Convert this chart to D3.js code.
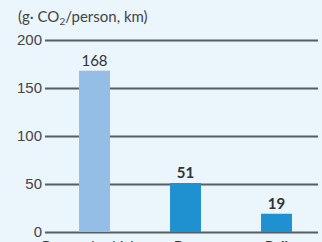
<!DOCTYPE html>
<html lang="en">
<head>
<meta charset="utf-8">
<title>CO2 per person km</title>
<script src="https://d3js.org/d3.v7.min.js"></script>
<style>
  html, body { margin: 0; padding: 0; background: #eaf5fc; }
  svg { display: block; font-family: Lato, "Open Sans", sans-serif; }
</style>
</head>
<body>
<div id="chart"></div>
<script>
// data
var modes = ["Personal vehicles", "Bus", "Rail"];
var emissions = [168, 51, 19];
var barColors = ["#95bee6", "#1f90d0", "#1f90d0"];
var boldLabel = [false, true, true];
var yTicks = [0, 50, 100, 150, 200];

var width = 322, height = 242;

var svg = d3.select("#chart").append("svg")
    .attr("width", width)
    .attr("height", height);

svg.append("rect")
    .attr("width", width).attr("height", height)
    .attr("fill", "#eaf5fc");

// scales
var y = d3.scaleLinear().domain([0, 200]).range([232, 40]);
var x = d3.scaleBand().domain(modes).range([49, 322]).paddingInner(0.66).paddingOuter(0.33);

// gridlines (drawn behind the bars)
var yAxis = d3.axisLeft(y)
    .tickValues(yTicks)
    .tickSize(-273)
    .tickPadding(3)
    .tickFormat(d3.format("d"));

var gy = svg.append("g")
    .attr("transform", "translate(45,0)")
    .call(yAxis);
gy.select(".domain").remove();
gy.selectAll(".tick line")
    .attr("stroke", "#5a5d60")
    .attr("stroke-width", 2);
gy.selectAll(".tick text")
    .attr("font-size", 15)
    .attr("fill", "#444");

// bars
svg.selectAll("rect.bar")
    .data(emissions)
    .enter().append("rect")
    .attr("class", "bar")
    .attr("x", function(d, i) { return x(modes[i]); })
    .attr("width", x.bandwidth())
    .attr("y", function(d) { return y(d); })
    .attr("height", function(d) { return y(0) - y(d); })
    .attr("fill", function(d, i) { return barColors[i]; });

// value labels
svg.selectAll("text.val")
    .data(emissions)
    .enter().append("text")
    .attr("class", "val")
    .attr("x", function(d, i) { return x(modes[i]) + x.bandwidth() / 2; })
    .attr("y", function(d) { return y(d) - 5; })
    .attr("text-anchor", "middle")
    .attr("font-size", 15)
    .attr("font-weight", function(d, i) { return boldLabel[i] ? "bold" : "normal"; })
    .attr("fill", "#333")
    .text(function(d) { return d; });

// category labels (cut off at the bottom edge, as in the original)
svg.selectAll("text.cat")
    .data(modes)
    .enter().append("text")
    .attr("class", "cat")
    .attr("x", function(d) { return x(d) + x.bandwidth() / 2; })
    .attr("y", 251)
    .attr("text-anchor", "middle")
    .attr("font-size", 14)
    .attr("font-weight", function(d, i) { return boldLabel[i] ? "bold" : "normal"; })
    .attr("fill", "#333")
    .text(function(d) { return d; });

// unit title
var title = svg.append("text")
    .attr("x", 18)
    .attr("y", 22)
    .attr("font-size", 15)
    .attr("fill", "#444");
title.append("tspan").text("(g· CO");
title.append("tspan").attr("font-size", 10).attr("dy", 3).text("2");
title.append("tspan").attr("dy", -3).text("/person, km)");
</script>
</body>
</html>
